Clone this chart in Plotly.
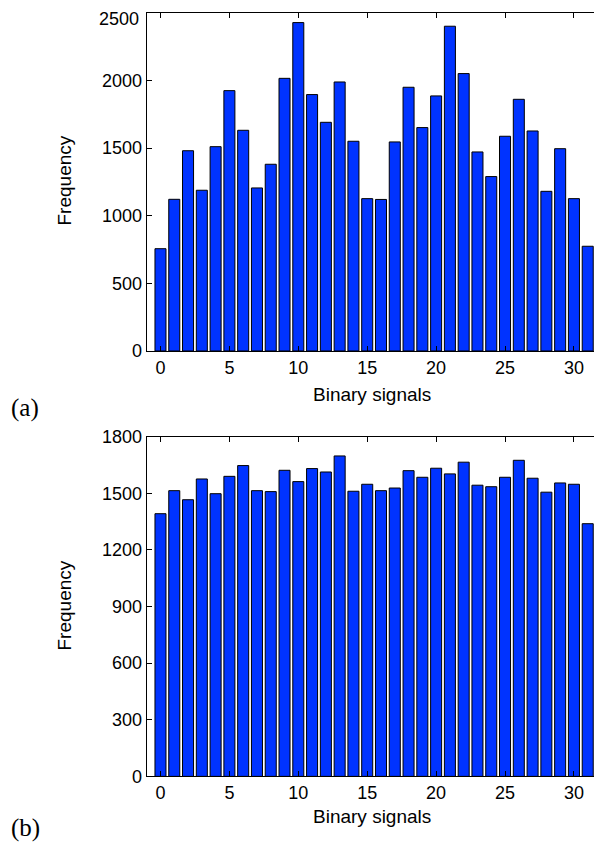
import plotly.graph_objects as go

signals = list(range(32))
freq_a = [756, 1121, 1480, 1188, 1510, 1924, 1631, 1205, 1380, 2015, 2427, 1895,
          1690, 1988, 1550, 1126, 1120, 1545, 1949, 1651, 1885, 2400, 2050, 1471,
          1289, 1587, 1860, 1626, 1180, 1495, 1126, 774]
freq_b = [1392, 1514, 1466, 1576, 1498, 1590, 1647, 1514, 1509, 1622, 1562, 1631,
          1613, 1698, 1511, 1548, 1514, 1528, 1620, 1585, 1633, 1603, 1665, 1543,
          1535, 1585, 1675, 1580, 1506, 1555, 1548, 1339]
x_ticks = [0, 5, 10, 15, 20, 25, 30]
y_ticks_a = [0, 500, 1000, 1500, 2000, 2500]
y_ticks_b = [0, 300, 600, 900, 1200, 1500, 1800]

# page body has an 8px margin; work in window pixels and convert
OFF = 8
W, H = 602 - OFF, 845 - OFF
BAR_COLOR = "#0033ff"
FONT = "Liberation Sans, Arial, sans-serif"


def fx(v):
    return (v - OFF) / W


def fy(v):
    return 1 - (v - OFF) / H


fig = go.Figure()
fig.add_trace(go.Bar(x=signals, y=freq_a, xaxis="x", yaxis="y", width=0.8,
                     marker=dict(color=BAR_COLOR, line=dict(color="black", width=1))))
fig.add_trace(go.Bar(x=signals, y=freq_b, xaxis="x2", yaxis="y2", width=0.8,
                     marker=dict(color=BAR_COLOR, line=dict(color="black", width=1))))

xdom = [fx(146.7), fx(601.5)]
ydom_a = [fy(351.0), fy(12.7)]
ydom_b = [fy(776.4), fy(436.7)]

axis_common = dict(showline=True, linecolor="black", linewidth=1, mirror="ticks",
                   ticks="inside", ticklen=5, tickcolor="black", showgrid=False,
                   zeroline=False, automargin=False,
                   tickfont=dict(family=FONT, size=18, color="black"))

# top tick label of panel (a) sits at the very top edge: draw it as an annotation
ticktext_a = [str(v) for v in y_ticks_a[:-1]] + [""]

fig.update_layout(
    template="none",
    width=W, height=H,
    margin=dict(l=0, r=0, t=0, b=0, pad=0),
    paper_bgcolor="white", plot_bgcolor="white",
    showlegend=False,
    xaxis=dict(domain=xdom, range=[-1, 32], tickvals=x_ticks, anchor="y", **axis_common),
    yaxis=dict(domain=ydom_a, range=[0, 2500], tickvals=y_ticks_a, ticktext=ticktext_a,
               anchor="x", **axis_common),
    xaxis2=dict(domain=xdom, range=[-1, 32], tickvals=x_ticks, anchor="y2", **axis_common),
    yaxis2=dict(domain=ydom_b, range=[0, 1800], tickvals=y_ticks_b, anchor="x2", **axis_common),
)

fig.add_annotation(text=str(y_ticks_a[-1]), xref="paper", yref="paper",
                   x=fx(139.5), y=1, showarrow=False, borderpad=0,
                   xanchor="right", yanchor="top",
                   font=dict(family=FONT, size=18, color="black"))

annos = [
    dict(text="Frequency", x=fx(63.5), y=fy(181), textangle=-90),
    dict(text="Binary signals", x=fx(372), y=fy(394)),
    dict(text="Frequency", x=fx(63.5), y=fy(606), textangle=-90),
    dict(text="Binary signals", x=fx(372), y=fy(816)),
]
for a in annos:
    fig.add_annotation(xref="paper", yref="paper", showarrow=False,
                       xanchor="center", yanchor="middle",
                       font=dict(family=FONT, size=19, color="black"), **a)

for lbl, yy in [("(a)", 408), ("(b)", 828)]:
    fig.add_annotation(text=lbl, xref="paper", yref="paper", x=fx(9), y=fy(yy),
                       showarrow=False, xanchor="left", yanchor="middle",
                       font=dict(family="Liberation Serif, DejaVu Serif, serif", size=25, color="black"))

fig.write_html("out.html")
